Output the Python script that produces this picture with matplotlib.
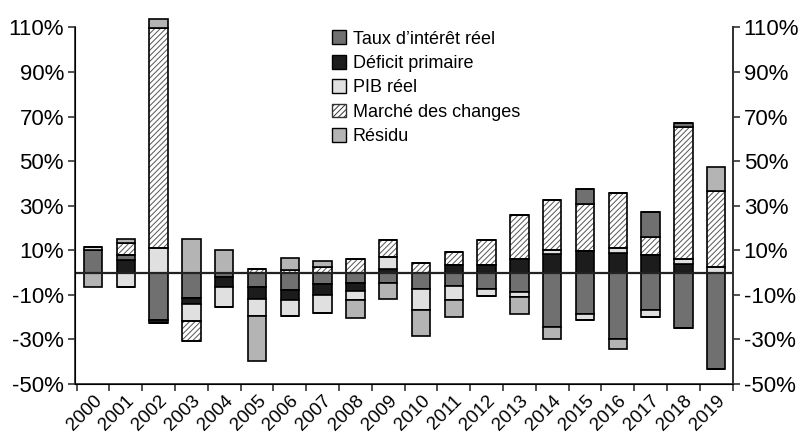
import numpy as np
import matplotlib.pyplot as plt
from matplotlib.patches import Patch

plt.rcParams['font.family'] = ['Liberation Sans', 'DejaVu Sans']
plt.rcParams['hatch.linewidth'] = 0.7

annees = [str(a) for a in range(2000, 2020)]

# contributions en points de %
taux_interet = [10.3, 2.4, -21.4, -11.4, -2.1, -6.5, -8.0, -5.0, -4.9, -4.7,
                -7.5, -6.2, -7.2, -8.7, -24.4, -18.4, -29.7, -16.9, -24.9, -43.1]
# segment gris foncé en haut de pile (2015, 2017, 2018)
taux_haut = [0, 0, 0, 0, 0, 0, 0, 0, 0, 0,
             0, 0, 0, 0, 0, 6.7, 0, 11.0, 1.8, 0]
deficit_primaire = [0, 5.5, -1.4, -2.5, -4.4, -5.2, -4.2, -4.9, -3.3, 1.5,
                    0, 3.3, 3.3, 6.0, 8.2, 9.7, 8.8, 7.8, 4.0, 0]
pib_reel = [1.2, -6.5, 11.2, -8.0, -9.0, -8.0, -7.5, -8.3, -4.2, 5.5,
            -9.4, -6.0, -3.3, -2.2, 2.1, -2.7, 2.4, -3.0, 2.2, 2.5]
marche_changes = [0, 5.5, 98.4, -9.0, 0, 1.5, 1.3, 2.5, 6.0, 7.8,
                  4.3, 6.0, 11.2, 19.8, 22.3, 20.9, 24.3, 8.2, 58.9, 34.0]
residu = [-6.5, 1.7, 4.0, 15.0, 10.0, -19.8, 5.4, 2.7, -8.2, -7.0,
          -11.6, -7.8, 0, -7.5, -5.6, 0, -4.5, 0, 0, 10.9]

styles = {
    'taux': dict(color='#707070'),
    'deficit': dict(color='#1c1c1c'),
    'pib': dict(color='#e0e0e0'),
    'marche': dict(color='white', hatch='//////'),
    'residu': dict(color='#b4b4b4'),
}
series = {
    'taux': taux_interet, 'taux_haut': taux_haut, 'deficit': deficit_primaire,
    'pib': pib_reel, 'marche': marche_changes, 'residu': residu,
}
ordre_pos = ['deficit', 'taux', 'pib', 'marche', 'taux_haut', 'residu']
ordre_neg = ['taux', 'deficit', 'pib', 'marche', 'residu']

fig = plt.figure(figsize=(8.02, 4.34), dpi=100)
ax = fig.add_axes([0.0935, 0.1152, 0.82, 0.8218])
x = np.arange(len(annees))
w = 0.56


def draw(key, vals, bottoms):
    st = styles['taux' if key == 'taux_haut' else key]
    if 'hatch' in st:
        ax.bar(x, vals, w, bottom=bottoms, color='white', edgecolor='#555555',
               hatch=st['hatch'], linewidth=0, clip_on=False, zorder=2)
        ax.bar(x, vals, w, bottom=bottoms, fill=False, edgecolor='black',
               linewidth=1.2, clip_on=False, zorder=3)
    else:
        ax.bar(x, vals, w, bottom=bottoms, color=st['color'], edgecolor='black',
               linewidth=1.2, clip_on=False, zorder=3)


base = np.zeros(len(x))
for k in ordre_pos:
    v = np.clip(np.array(series[k], dtype=float), 0, None)
    draw(k, v, base.copy())
    base += v
base = np.zeros(len(x))
for k in ordre_neg:
    v = np.clip(np.array(series[k], dtype=float), None, 0)
    draw(k, v, base.copy())
    base += v

ax.axhline(0, color='#222222', linewidth=1.6, zorder=4)

ax.set_xlim(-0.55, 19.47)
ax.set_ylim(-50, 110)
yt = np.arange(-50, 111, 20)
ax.set_yticks(yt)
ax.set_yticklabels([f'{t}%' for t in yt], fontsize=16)
ax.set_xticks(x)
ax.set_xticklabels(annees, rotation=45, ha='right', rotation_mode='anchor', fontsize=13.5)
ax.tick_params(axis='x', which='major', length=0, pad=6)
ax.set_xticks(np.arange(-0.5, 19.6, 1), minor=True)
ax.tick_params(axis='x', which='minor', length=5, width=1.2, color='#333333')
ax.tick_params(axis='y', length=5, width=1.2, color='#333333', pad=3)
ax.spines['top'].set_visible(False)
for s in ['left', 'bottom', 'right']:
    ax.spines[s].set_linewidth(1.3)
    ax.spines[s].set_color('#333333')

ax2 = ax.twinx()
ax2.set_ylim(-50, 110)
ax2.set_yticks(yt)
ax2.set_yticklabels([f'{t}%' for t in yt], fontsize=16)
ax2.tick_params(axis='y', length=5, width=1.2, color='#333333', pad=3)
ax2.spines['top'].set_visible(False)
ax2.spines['right'].set_linewidth(1.3)
ax2.spines['right'].set_color('#333333')

handles = [
    Patch(facecolor='#707070', edgecolor='black', label="Taux d’intérêt réel"),
    Patch(facecolor='#1c1c1c', edgecolor='black', label='Déficit primaire'),
    Patch(facecolor='#e0e0e0', edgecolor='black', label='PIB réel'),
    Patch(facecolor='white', edgecolor='#333333', hatch='//////', label='Marché des changes'),
    Patch(facecolor='#b4b4b4', edgecolor='black', label='Résidu'),
]
ax.legend(handles=handles, loc='upper left', bbox_to_anchor=(0.414, 0.93),
          bbox_transform=fig.transFigure, frameon=False, fontsize=13,
          handlelength=0.8, handleheight=0.8, handletextpad=0.35,
          labelspacing=0.4, borderpad=0, borderaxespad=0)

fig.savefig('out.png', dpi=100)
